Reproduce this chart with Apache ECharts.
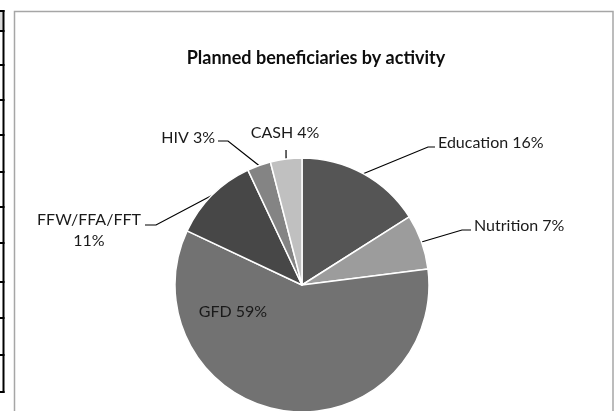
<!DOCTYPE html>
<html>
<head>
    <meta charset="utf-8">
    <title>Planned beneficiaries by activity</title>
    <script src="https://cdn.jsdelivr.net/npm/echarts@6/dist/echarts.min.js"></script>
    <style type="text/css">
        html, body { margin: 0; padding: 0; background: #fff; }
        #main { width: 616px; height: 411px; }
    </style>
</head>
<body>
    <div id="main"></div>
    <script type="text/javascript">
        // data
        var activities = ['Education', 'Nutrition', 'GFD', 'FFW/FFA/FFT', 'HIV', 'CASH'];
        var shares = [16, 7, 59, 11, 3, 4];
        var sliceColors = ['#555555', '#9c9c9c', '#727272', '#474747', '#848484', '#c0c0c0'];

        // where excel put each label: [x, y, align, elbowX, elbowY, endX, endY]
        var labelSpots = [
            [438, 143, 'left', 428, 147, 435, 147],
            [474, 226, 'left', 462, 230, 471, 230],
            [233, 312, 'center'],
            [89, 230, 'center', 156, 225, 145, 225],
            [215, 138, 'right', 228, 141, 218, 141],
            [285, 133, 'center', 286, 150, 286, 150]
        ];
        // row lines of the table poking in at the left edge
        var rowLines = [11, 31, 65, 100, 135, 172, 207, 243, 282, 318, 355, 392];

        var font = 'Lato, "Open Sans", sans-serif';

        var pieData = [];
        for (var i = 0; i < activities.length; i++) {
            var item = { name: activities[i], value: shares[i], itemStyle: { color: sliceColors[i] } };
            if (activities[i] == 'GFD') {
                item.label = { position: 'inside' };
                item.labelLine = { show: false };
            }
            pieData.push(item);
        }

        var deco = [];
        deco.push({ type: 'rect', shape: { x: 0, y: 11, width: 3, height: 20 }, style: { fill: '#d9d9d9' }, silent: true });
        deco.push({ type: 'line', shape: { x1: 3.5, y1: 10, x2: 3.5, y2: 393 }, style: { stroke: '#000', lineWidth: 2 }, silent: true });
        for (var j = 0; j < rowLines.length; j++) {
            deco.push({ type: 'line', shape: { x1: 0, y1: rowLines[j], x2: 4.5, y2: rowLines[j] }, style: { stroke: '#000', lineWidth: 2 }, silent: true });
        }
        deco.push({ type: 'rect', shape: { x: 14.5, y: 11.5, width: 598.5, height: 420 }, style: { fill: null, stroke: '#a6a6a6', lineWidth: 1.5 }, silent: true });

        var myChart = echarts.init(document.getElementById('main'));
        var option = {
            animation: false,
            backgroundColor: '#fff',
            title: {
                text: 'Planned beneficiaries by activity',
                left: 311,
                top: 44,
                textAlign: 'center',
                textStyle: { fontFamily: font, fontSize: 18, fontWeight: 'bold', color: '#0d0d0d' }
            },
            graphic: deco,
            series: [{
                name: 'Beneficiaries',
                type: 'pie',
                center: [302, 285],
                radius: 127,
                startAngle: 90,
                clockwise: true,
                avoidLabelOverlap: false,
                itemStyle: { borderColor: '#fff', borderWidth: 1.5 },
                label: {
                    show: true,
                    fontFamily: font,
                    fontSize: 16,
                    color: '#1a1a1a',
                    lineHeight: 21,
                    formatter: function (p) {
                        var pct = Math.round(p.percent) + '%';
                        if (p.name.indexOf('/') > -1) {
                            return p.name + '\n' + pct;
                        }
                        return p.name + ' ' + pct;
                    }
                },
                labelLine: { show: true, lineStyle: { color: '#000', width: 1.2 } },
                labelLayout: function (params) {
                    var s = labelSpots[params.dataIndex];
                    var out = { x: s[0], y: s[1], align: s[2], verticalAlign: 'middle' };
                    if (s.length > 3 && params.labelLinePoints) {
                        var start = params.labelLinePoints[0];
                        out.labelLinePoints = [[start[0], start[1]], [s[3], s[4]], [s[5], s[6]]];
                    }
                    return out;
                },
                data: pieData
            }]
        };
        myChart.setOption(option);
    </script>
</body>
</html>
